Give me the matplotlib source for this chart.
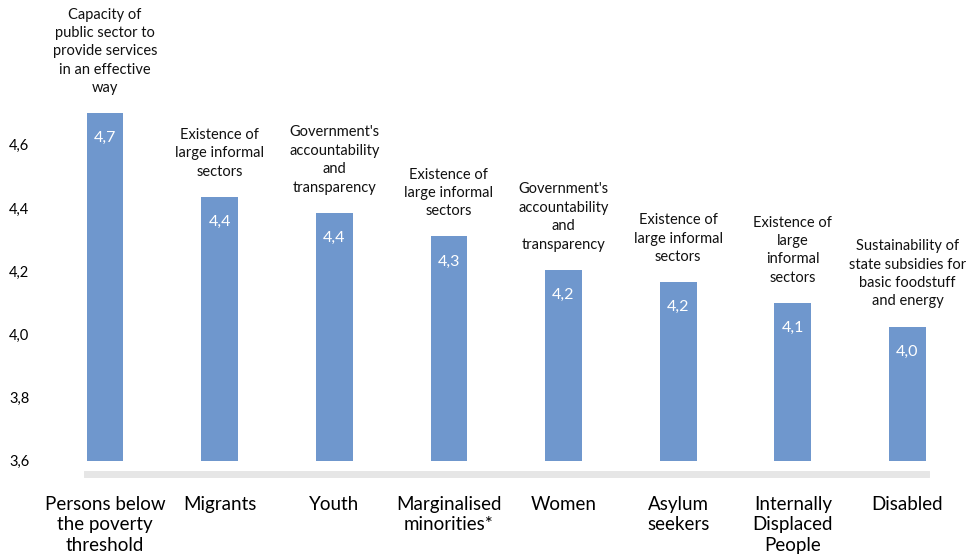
import numpy as np
import matplotlib
matplotlib.use("Agg")
from matplotlib import pyplot as plt

groups = [
    "Persons below\nthe poverty\nthreshold",
    "Migrants",
    "Youth",
    "Marginalised\nminorities*",
    "Women",
    "Asylum\nseekers",
    "Internally\nDisplaced\nPeople",
    "Disabled",
]
scores = [4.70, 4.435, 4.385, 4.31, 4.205, 4.165, 4.10, 4.025]
top_factor = [
    "Capacity of\npublic sector to\nprovide services\nin an effective\nway",
    "Existence of\nlarge informal\nsectors",
    "Government's\naccountability\nand\ntransparency",
    "Existence of\nlarge informal\nsectors",
    "Government's\naccountability\nand\ntransparency",
    "Existence of\nlarge informal\nsectors",
    "Existence of\nlarge\ninformal\nsectors",
    "Sustainability of\nstate subsidies for\nbasic foodstuff\nand energy",
]
yticks = [3.6, 3.8, 4.0, 4.2, 4.4, 4.6]

plt.rcParams["font.family"] = ["Lato", "DejaVu Sans"]

fig = plt.figure(figsize=(9.66, 5.54), dpi=100)
ax = fig.add_axes([60 / 966, 80.5 / 554, 900 / 966, 473.5 / 554])

x = np.arange(len(groups))
base = 3.6
ax.bar(x, np.array(scores) - base, bottom=base, width=0.32, color="#6F97CD")

for xi, v, txt in zip(x, scores, top_factor):
    ax.annotate(f"{v:.1f}".replace(".", ","), (xi, v), xytext=(0, -18),
                textcoords="offset points", ha="center", va="center",
                color="white", fontsize=11.5)
    ax.annotate(txt, (xi, v), xytext=(0, 13), textcoords="offset points",
                ha="center", va="bottom", fontsize=10.5, color="#111111",
                linespacing=1.4)

ax.set_xlim(-0.3925, 7.4585)
ax.set_ylim(3.56, 5.058)
ax.set_yticks(yticks)
ax.set_yticklabels([f"{t:.1f}".replace(".", ",") for t in yticks])
ax.set_xticks(x)
ax.set_xticklabels(groups, fontsize=13.5, linespacing=1.26)
ax.tick_params(axis="y", length=0, pad=22, labelsize=10.5)
ax.tick_params(axis="x", length=0, pad=16)

for side in ["top", "right", "left"]:
    ax.spines[side].set_visible(False)
ax.spines["bottom"].set_color("#E6E6E6")
ax.spines["bottom"].set_linewidth(5)
ax.spines["bottom"].set_bounds(-0.16, 7.16)

fig.savefig("out.png", dpi=100)
